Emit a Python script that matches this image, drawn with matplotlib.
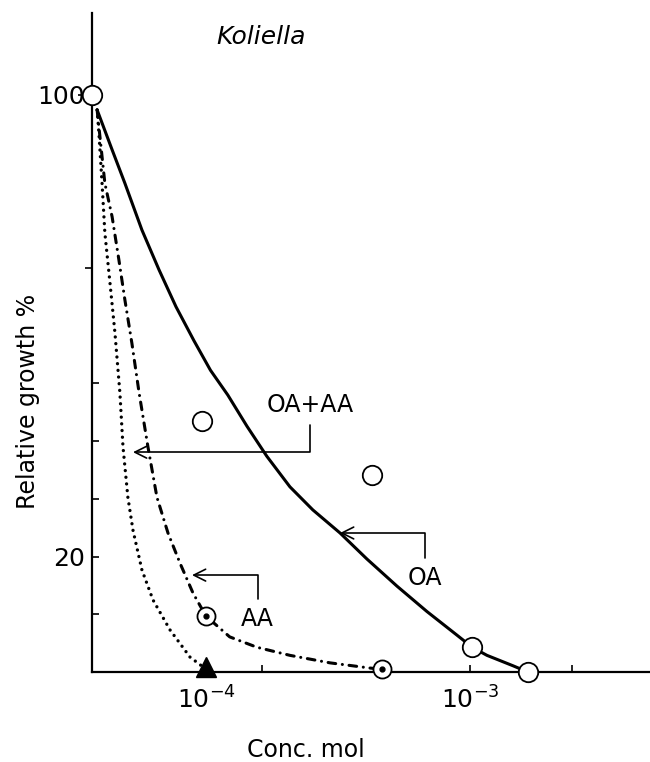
import matplotlib
matplotlib.use("Agg")
import matplotlib.pyplot as plt
import matplotlib.lines as mlines
from matplotlib.ticker import NullFormatter

# --- Datos (conc. en mol, crecimiento relativo en %) ---
conc_ctrl = [3.7e-5]
growth_ctrl = [100]

# círculos abiertos (OA)
oa_conc = [9.7e-5, 4.25e-4, 1.02e-3, 1.66e-3]
oa_growth = [43.5, 34.1, 4.3, 0.0]

# círculos con punto (AA)
aa_conc = [1.0e-4, 4.64e-4]
aa_growth = [9.7, 0.5]

# triángulo (OA+AA)
mix_conc = [1.0e-4]
mix_growth = [0.9]

# curvas trazadas a mano en el original
oa_curve_conc = [3.87e-5, 4.41e-5, 4.93e-5, 5.72e-5, 6.64e-5, 7.70e-5, 9.01e-5,
                 1.04e-4, 1.21e-4, 1.43e-4, 1.70e-4, 2.08e-4, 2.54e-4, 3.22e-4,
                 4.07e-4, 5.29e-4, 6.87e-4, 8.93e-4, 1.02e-3, 1.16e-3, 1.455e-3,
                 1.66e-3]
oa_curve_growth = [97.4, 90.5, 84.7, 76.6, 69.7, 63.3, 57.4,
                   52.3, 48.0, 42.6, 37.4, 32.1, 28.1, 24.1,
                   19.6, 14.9, 10.5, 6.4, 4.3, 2.9, 1.1,
                   0.0]

aa_curve_conc = [3.87e-5, 4.14e-5, 4.41e-5, 4.68e-5, 4.93e-5, 5.24e-5, 5.58e-5,
                 6.03e-5, 6.52e-5, 7.18e-5, 7.97e-5, 8.93e-5, 1.0e-4, 1.23e-4,
                 1.56e-4, 2.08e-4, 2.95e-4, 4.18e-4, 4.64e-4]
aa_curve_growth = [97.4, 84.7, 78.9, 71.4, 64.5, 57.0, 48.4,
                   39.0, 30.3, 24.1, 18.9, 13.7, 9.7, 6.1,
                   4.3, 2.9, 1.6, 0.7, 0.5]

mix_curve_conc = [3.87e-5, 3.93e-5, 4.04e-5, 4.14e-5, 4.33e-5, 4.52e-5, 4.72e-5,
                  4.85e-5, 5.06e-5, 5.29e-5, 5.72e-5, 6.30e-5, 7.31e-5, 8.70e-5,
                  9.74e-5]
mix_curve_growth = [97.4, 93.4, 84.7, 76.1, 67.4, 58.8, 48.4,
                    39.0, 30.3, 24.6, 17.7, 12.5, 7.3, 2.6,
                    0.9]

x_ticks = [1e-4, 1e-3]
x_ticklabels = [r'$10^{-4}$', r'$10^{-3}$']
x_minor = [1.63e-4, 4.56e-4, 1.66e-3, 2.43e-3]
y_ticks = [20, 100]
y_minor = [10, 30, 40, 50, 70]

# --- Figura ---
fig = plt.figure(figsize=(6.5, 7.62), dpi=100)
ax = fig.add_axes([0.1415, 0.118, 0.8585, 0.865])

ax.plot(oa_curve_conc, oa_curve_growth, color='black', lw=2.2, solid_capstyle='round',
        solid_joinstyle='round')
ax.plot(aa_curve_conc, aa_curve_growth, color='black', lw=2.2,
        linestyle=(0, (2.5, 2.2, 0.01, 2.2)), dash_capstyle='round')
ax.plot(mix_curve_conc, mix_curve_growth, color='black', lw=2.4,
        linestyle=(0, (0.01, 2.0)), dash_capstyle='round')

circ = dict(linestyle='none', marker='o', markersize=14, markerfacecolor='white',
            markeredgecolor='black', markeredgewidth=1.3, clip_on=False, zorder=5)
ax.plot(conc_ctrl, growth_ctrl, **circ)
ax.plot(oa_conc, oa_growth, **circ)
ax.plot(aa_conc, aa_growth, **dict(circ, markersize=13))
ax.plot(aa_conc, aa_growth, 'o', color='black', markersize=3.5, zorder=6, clip_on=False)
ax.plot(mix_conc, mix_growth, '^', color='black', markersize=14, zorder=6, clip_on=False)

# --- Rótulos con flechas ---
arrow = dict(arrowstyle='->,head_length=0.5,head_width=0.25', lw=1.2, color='black',
             connectionstyle='angle,angleA=90,angleB=0,rad=0', shrinkA=4, shrinkB=0)
ax.annotate('OA+AA', xy=(5.29e-5, 38.1), xytext=(2.48e-4, 46.3), fontsize=17,
            ha='center', va='center', arrowprops=arrow)
ax.annotate('AA', xy=(8.85e-5, 16.8), xytext=(1.57e-4, 9.2), fontsize=17,
            ha='center', va='center', arrowprops=arrow)
ax.annotate('OA', xy=(3.22e-4, 24.1), xytext=(6.75e-4, 16.3), fontsize=17,
            ha='center', va='center', arrowprops=arrow)

fig.text(261 / 650, 1 - 37 / 762, 'Koliella', fontsize=18, style='italic',
         ha='center', va='center')

# --- Ejes ---
ax.set_xscale('log')
ax.set_xlim(3.7e-5, 4.81e-3)
ax.set_ylim(0, 114.2)
for s in ['top', 'right']:
    ax.spines[s].set_visible(False)
for s in ['left', 'bottom']:
    ax.spines[s].set_linewidth(1.6)

ax.set_xticks(x_ticks)
ax.set_xticklabels(x_ticklabels)
ax.set_xticks(x_minor, minor=True)
ax.xaxis.set_minor_formatter(NullFormatter())
ax.set_yticks(y_ticks)
ax.set_yticks(y_minor, minor=True)

ax.tick_params(axis='both', which='both', direction='in', length=5, width=1.2,
               labelsize=18)
ax.tick_params(axis='x', which='major', pad=10)
ax.tick_params(axis='y', which='major', pad=5)

# algunas marcas van hacia fuera en el original
for i in [1, 2]:
    ax.xaxis.get_minor_ticks()[i].tick1line.set_marker(mlines.TICKDOWN)
ax.yaxis.get_minor_ticks()[4].tick1line.set_marker(mlines.TICKLEFT)
t100 = ax.yaxis.get_major_ticks()[1]
t100.tick1line.set_marker(mlines.TICKLEFT)
t100.tick1line.set_markersize(10)

ax.set_xlabel('Conc. mol', fontsize=17, va='center')
ax.xaxis.set_label_coords(0.3835, -0.118)
ax.set_ylabel('Relative growth %', fontsize=17, va='center')
ax.yaxis.set_label_coords(-0.115, 0.41)

fig.savefig('out.png', dpi=100)
